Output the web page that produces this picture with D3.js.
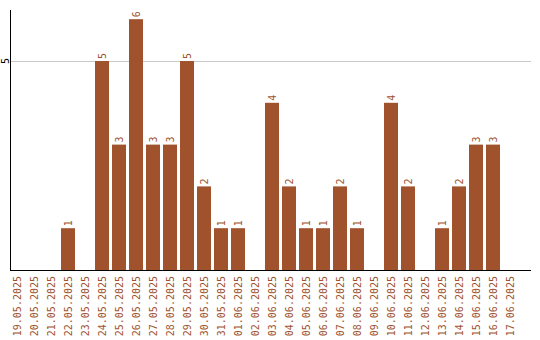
<!DOCTYPE html>
<html><head><meta charset="utf-8">
<script src="https://cdn.jsdelivr.net/npm/d3@7"></script>
<style>body{margin:0;background:#fff}svg{display:block}text{font-family:"DejaVu Sans Mono",monospace;font-size:10px}</style>
</head><body><svg id="c" width="540" height="340"></svg>
<script>
const categories = ["19.05.2025","20.05.2025","21.05.2025","22.05.2025","23.05.2025","24.05.2025","25.05.2025","26.05.2025","27.05.2025","28.05.2025","29.05.2025","30.05.2025","31.05.2025","01.06.2025","02.06.2025","03.06.2025","04.06.2025","05.06.2025","06.06.2025","07.06.2025","08.06.2025","09.06.2025","10.06.2025","11.06.2025","12.06.2025","13.06.2025","14.06.2025","15.06.2025","16.06.2025","17.06.2025"];
const values = [0,0,0,1,0,5,3,6,3,3,5,2,1,1,0,4,2,1,1,2,1,0,4,2,0,1,2,3,3,0];
const yTicks = [5];

const svg = d3.select("#c");
const color = "#a0522d";
const x = d3.scaleBand().domain(categories).range([10, 520]).paddingInner(3/17).paddingOuter(3/34).align(0);
const y = d3.scaleLinear().domain([0, 6.22]).range([270, 10]);

// gridlines
svg.append("g").selectAll("line").data(yTicks).join("line")
  .attr("x1", 10).attr("x2", 531)
  .attr("y1", d => Math.round(y(d)) + 0.5).attr("y2", d => Math.round(y(d)) + 0.5)
  .attr("stroke", "#c8c8c8").attr("stroke-width", 1);

// bars
svg.append("g").selectAll("rect").data(values).join("rect")
  .attr("x", (d, i) => x(categories[i]))
  .attr("width", x.bandwidth())
  .attr("y", d => y(d))
  .attr("height", d => y(0) - y(d))
  .attr("fill", color);

// value labels
svg.append("g").selectAll("text").data(values.map((v, i) => ({v, i})).filter(d => d.v > 0)).join("text")
  .attr("transform", d => `translate(${x(categories[d.i]) + x.bandwidth()/2},${y(d.v) - 2}) rotate(-90)`)
  .attr("dy", "0.35em")
  .attr("text-anchor", "start")
  .attr("fill", color)
  .text(d => d.v);

// axes lines
svg.append("line").attr("x1", 10.5).attr("x2", 10.5).attr("y1", 10).attr("y2", 270).attr("stroke", "#000");
svg.append("line").attr("x1", 10).attr("x2", 531).attr("y1", 270.5).attr("y2", 270.5).attr("stroke", "#000");

// y tick labels
svg.append("g").selectAll("text").data(yTicks).join("text")
  .attr("transform", d => `translate(5,${y(d)}) rotate(-90)`)
  .attr("dy", "0.35em")
  .attr("text-anchor", "middle")
  .attr("fill", "#000")
  .text(d => d);

// x tick labels
svg.append("g").selectAll("text").data(categories).join("text")
  .attr("transform", d => `translate(${x(d) + x.bandwidth()/2},276) rotate(-90)`)
  .attr("dy", "0.35em")
  .attr("text-anchor", "end")
  .attr("fill", color)
  .text(d => d);
</script></body></html>
